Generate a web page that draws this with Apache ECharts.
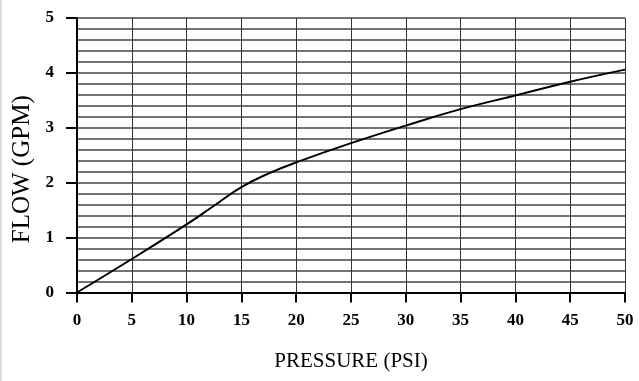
<!DOCTYPE html>
<html>
<head>
<meta charset="utf-8">
<script src="https://cdn.jsdelivr.net/npm/echarts@6/dist/echarts.min.js"></script>
<style>
html,body{margin:0;padding:0;background:#fff;}
#c{width:639px;height:381px;border-left:2px solid #ddd;box-sizing:border-box;}
</style>
</head>
<body>
<div id="c"></div>
<script>
const pressure = [0, 5, 10, 12.5, 15, 17.5, 20, 25, 30, 35, 40, 45, 50];
const flow = [0, 0.61, 1.24, 1.58, 1.92, 2.17, 2.37, 2.72, 3.04, 3.34, 3.59, 3.84, 4.06];
const xTitle = 'PRESSURE (PSI)';
const yTitle = 'FLOW (GPM)';

const chart = echarts.init(document.getElementById('c'));
const font = '"Liberation Serif", "Times New Roman", serif';
chart.setOption({
  animation: false,
  grid: {left: 75, right: 14, top: 18, bottom: 88.5, containLabel: false, outerBoundsMode: 'none'},
  xAxis: {
    type: 'value', min: 0, max: 50, interval: 5,
    name: xTitle, nameLocation: 'middle', nameGap: 58,
    nameTextStyle: {fontFamily: font, fontSize: 21, color: '#000'},
    axisLine: {show: true, onZero: false, lineStyle: {color: '#000', width: 2}},
    axisTick: {show: true, inside: false, length: 10, lineStyle: {color: '#000', width: 2}},
    axisLabel: {margin: 20, fontFamily: font, fontSize: 17, fontWeight: 'bold', color: '#000'},
    splitLine: {show: true, lineStyle: {color: '#333', width: 1}}
  },
  yAxis: {
    type: 'value', min: 0, max: 5, interval: 1,
    name: yTitle, nameLocation: 'middle', nameGap: 42, nameRotate: 90,
    nameTextStyle: {fontFamily: font, fontSize: 25, color: '#000', padding: [0, 28, 0, 0]},
    axisLine: {show: true, lineStyle: {color: '#000', width: 2}},
    axisTick: {show: true, inside: false, length: 11, lineStyle: {color: '#000', width: 2}},
    axisLabel: {margin: 23, fontFamily: font, fontSize: 17, fontWeight: 'bold', color: '#000'},
    splitLine: {show: true, lineStyle: {color: '#444', width: 1.5}},
    minorTick: {show: false, splitNumber: 5},
    minorSplitLine: {show: true, lineStyle: {color: '#444', width: 1.5}}
  },
  series: [{
    type: 'line',
    data: pressure.map((p, i) => [p, flow[i]]),
    smooth: 0.45,
    showSymbol: false,
    lineStyle: {color: '#000', width: 2},
    z: 5
  }]
});
</script>
</body>
</html>
